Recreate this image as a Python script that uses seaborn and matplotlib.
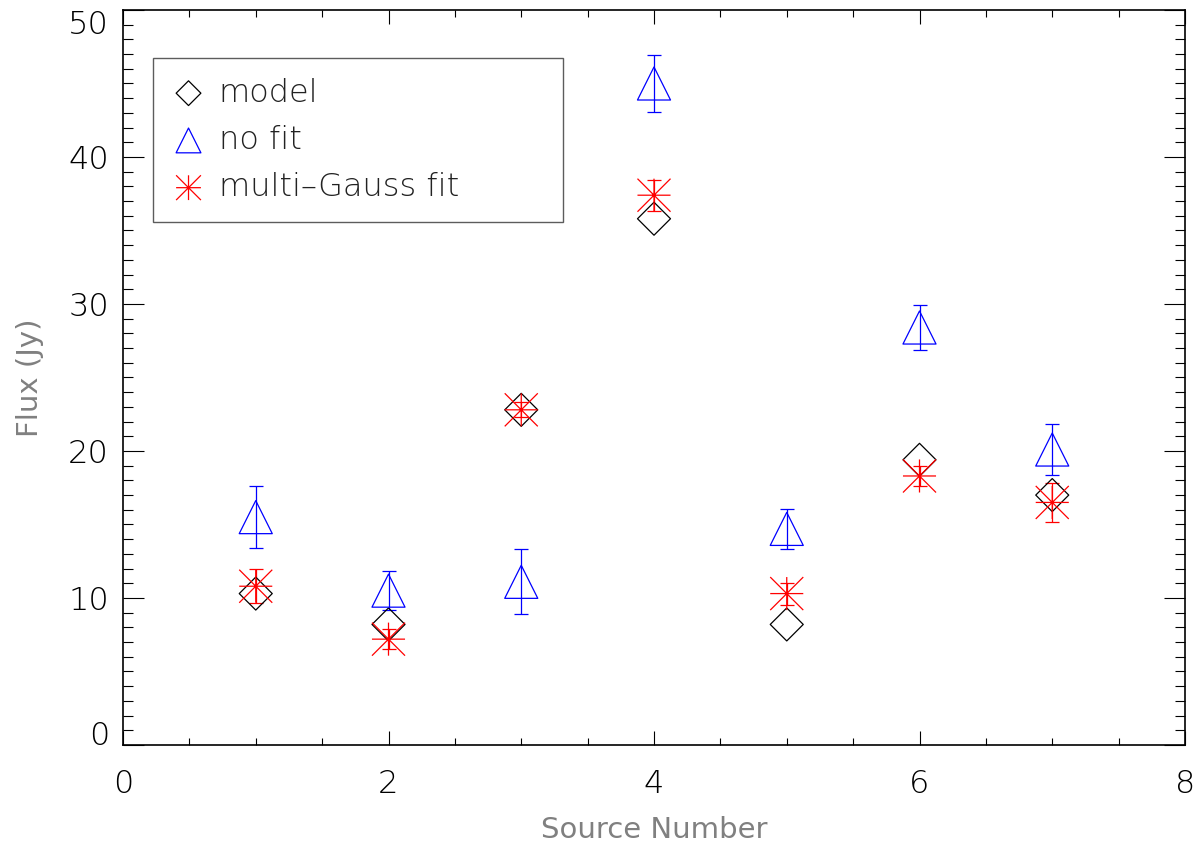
import matplotlib
matplotlib.use('Agg')
import matplotlib.pyplot as plt
from matplotlib.path import Path
from matplotlib.ticker import MultipleLocator
import pandas as pd
import seaborn as sns

# Flux per source
source = [1, 2, 3, 4, 5, 6, 7]
model_flux = [10.3, 8.2, 22.8, 35.8, 8.2, 19.4, 17.0]
nofit_flux = [15.5, 10.5, 11.1, 45.0, 14.7, 28.4, 20.1]
nofit_err = [2.1, 1.35, 2.2, 1.95, 1.35, 1.5, 1.75]
gauss_flux = [10.8, 7.2, 22.8, 37.4, 10.3, 18.3, 16.5]
gauss_err = [1.15, 0.7, 0.5, 1.05, 0.75, 0.7, 1.35]
x_ticks = [0, 2, 4, 6, 8]
y_ticks = [0, 10, 20, 30, 40, 50]

df = pd.DataFrame({'Source': source, 'model': model_flux,
                   'nofit': nofit_flux, 'nofit_err': nofit_err,
                   'gauss': gauss_flux, 'gauss_err': gauss_err})

sns.set_style('ticks')
plt.rcParams['font.family'] = ['DejaVu Sans']
plt.rcParams['font.weight'] = 'light'  # thin strokes, closer to the IDL vector font

# IDL style asterisk: plus sign and cross
asterisk = Path([(-1, 0), (1, 0), (0, -1), (0, 1), (-1, -1), (1, 1), (-1, 1), (1, -1)],
                [Path.MOVETO, Path.LINETO] * 4)

fig = plt.figure(figsize=(12, 8.46), dpi=100)
ax = fig.add_axes([0.1025, 0.1194, 0.885, 0.8688])

lw = 0.9
ax.errorbar(df['Source'], df['nofit'], yerr=df['nofit_err'], fmt='none', ecolor='#0000ff',
            elinewidth=lw, capsize=4.7, capthick=lw, zorder=2)
ax.errorbar(df['Source'], df['gauss'], yerr=df['gauss_err'], fmt='none', ecolor='#ff0000',
            elinewidth=lw, capsize=4.7, capthick=lw, zorder=2)

sns.scatterplot(data=df, x='Source', y='model', marker='D', s=16.8 ** 2, facecolor='none',
                edgecolor='black', linewidth=lw, label='model', ax=ax, zorder=3)
sns.scatterplot(data=df, x='Source', y='nofit', marker='^', s=23.8 ** 2, facecolor='none',
                edgecolor='#0000ff', linewidth=lw, label='no fit', ax=ax, zorder=3)
sns.scatterplot(data=df, x='Source', y='gauss', marker=asterisk, s=23.8 ** 2, facecolor='none',
                edgecolor='#ff0000', linewidth=lw, label='multi\u2013Gauss fit', ax=ax, zorder=3)

ax.set_xlim(0, 8)
ax.set_ylim(0, 50)
ax.set_xticks(x_ticks)
ax.set_yticks(y_ticks)
ax.xaxis.set_minor_locator(MultipleLocator(0.5))
ax.yaxis.set_minor_locator(MultipleLocator(1))
ax.tick_params(which='both', direction='in', top=True, right=True, width=0.8, color='black',
               labelsize=23, labelcolor='black')
ax.tick_params(axis='x', which='major', length=10, pad=17)
ax.tick_params(axis='x', which='minor', length=5)
ax.tick_params(axis='y', which='major', length=15, pad=10)
ax.tick_params(axis='y', which='minor', length=7)
for sp in ax.spines.values():
    sp.set_visible(True)
    sp.set_color('black')
    sp.set_linewidth(1.2)

ax.set_xlabel('Source Number', fontsize=21, color='#808080', va='center')
ax.set_ylabel('Flux (Jy)', fontsize=21, color='#808080', va='center')
ax.xaxis.set_label_coords(0.5, -0.116)
ax.yaxis.set_label_coords(-0.088, 0.5)

# end labels sit inside the axis range, as in the original
yticks = ax.yaxis.get_major_ticks()
yticks[0].label1.set_va('baseline')
yticks[-1].label1.set_va('top')

leg = ax.legend(loc='upper left', bbox_to_anchor=(0.028, 0.5, 0.386, 0.435), mode='expand',
                borderaxespad=0, frameon=True, fancybox=False, fontsize=23, markerscale=0.75,
                handletextpad=0.45, labelspacing=0.54, borderpad=0.62, handlelength=1.0)
leg.get_frame().set_edgecolor('#333333')
leg.get_frame().set_linewidth(1.0)
for t in leg.get_texts():
    t.set_color('#222222')

fig.savefig('out.png', dpi=100)
